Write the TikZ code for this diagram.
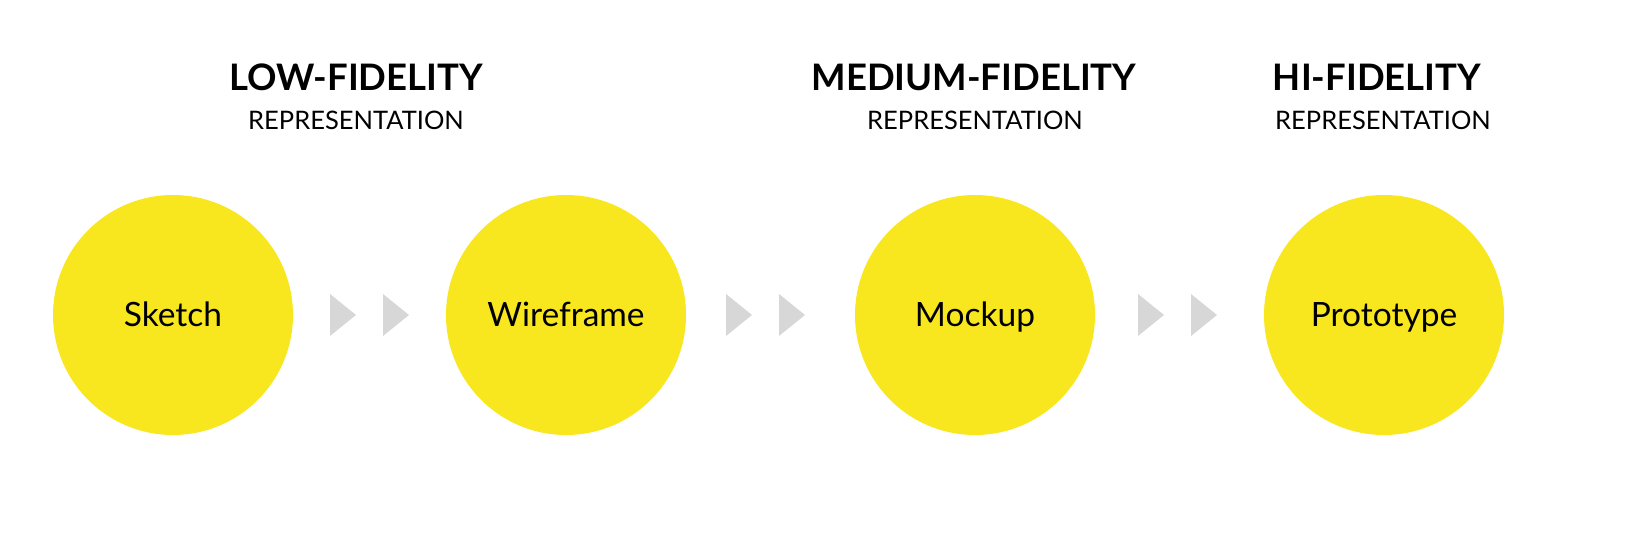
\documentclass[tikz,border=0pt]{standalone}
\usepackage{fontspec}
\setmainfont{Lato}
\usepackage{tikz}
\usetikzlibrary{positioning}
\definecolor{stageyellow}{HTML}{F8E71E}
\definecolor{chevgray}{HTML}{D7D7D7}

\begin{document}
\begin{tikzpicture}[x=1pt, y=-1pt,
    stage/.style={circle, fill=stageyellow, minimum size=240pt, inner sep=0pt,
        text height=22pt, text depth=0pt, font=\fontsize{33.5}{35}\selectfont},
    level/.style={font=\fontsize{36.5}{38}\bfseries},
    sublevel/.style={font=\fontsize{25.5}{27}\selectfont}]
    \useasboundingbox (0,0) rectangle (1626,541);

    % the four stages
    \node[stage] (sketch) at (173,315) {Sketch};
    \node[stage] (wireframe) at (566,315) {Wireframe};
    \node[stage] (mockup) at (975,315) {Mockup};
    \node[stage] (prototype) at (1384,315) {Prototype};

    % headings
    \node[level] (low) at (356,77) {LOW-FIDELITY};
    \node[sublevel] (lowrep) at (356,120) {REPRESENTATION};
    \node[level] (medium) at (974,77) {MEDIUM-FIDELITY};
    \node[sublevel] (mediumrep) at (975,120) {REPRESENTATION};
    \node[level] (hi) at (1377,77) {HI-FIDELITY};
    \node[sublevel] (hirep) at (1383,120) {REPRESENTATION};

    % gray chevrons between the stages
    \foreach \x in {330,383,726,779,1138,1191}
        \fill[chevgray] (\x,294) -- (\x+26,315) -- (\x,336) -- cycle;
\end{tikzpicture}
\end{document}
